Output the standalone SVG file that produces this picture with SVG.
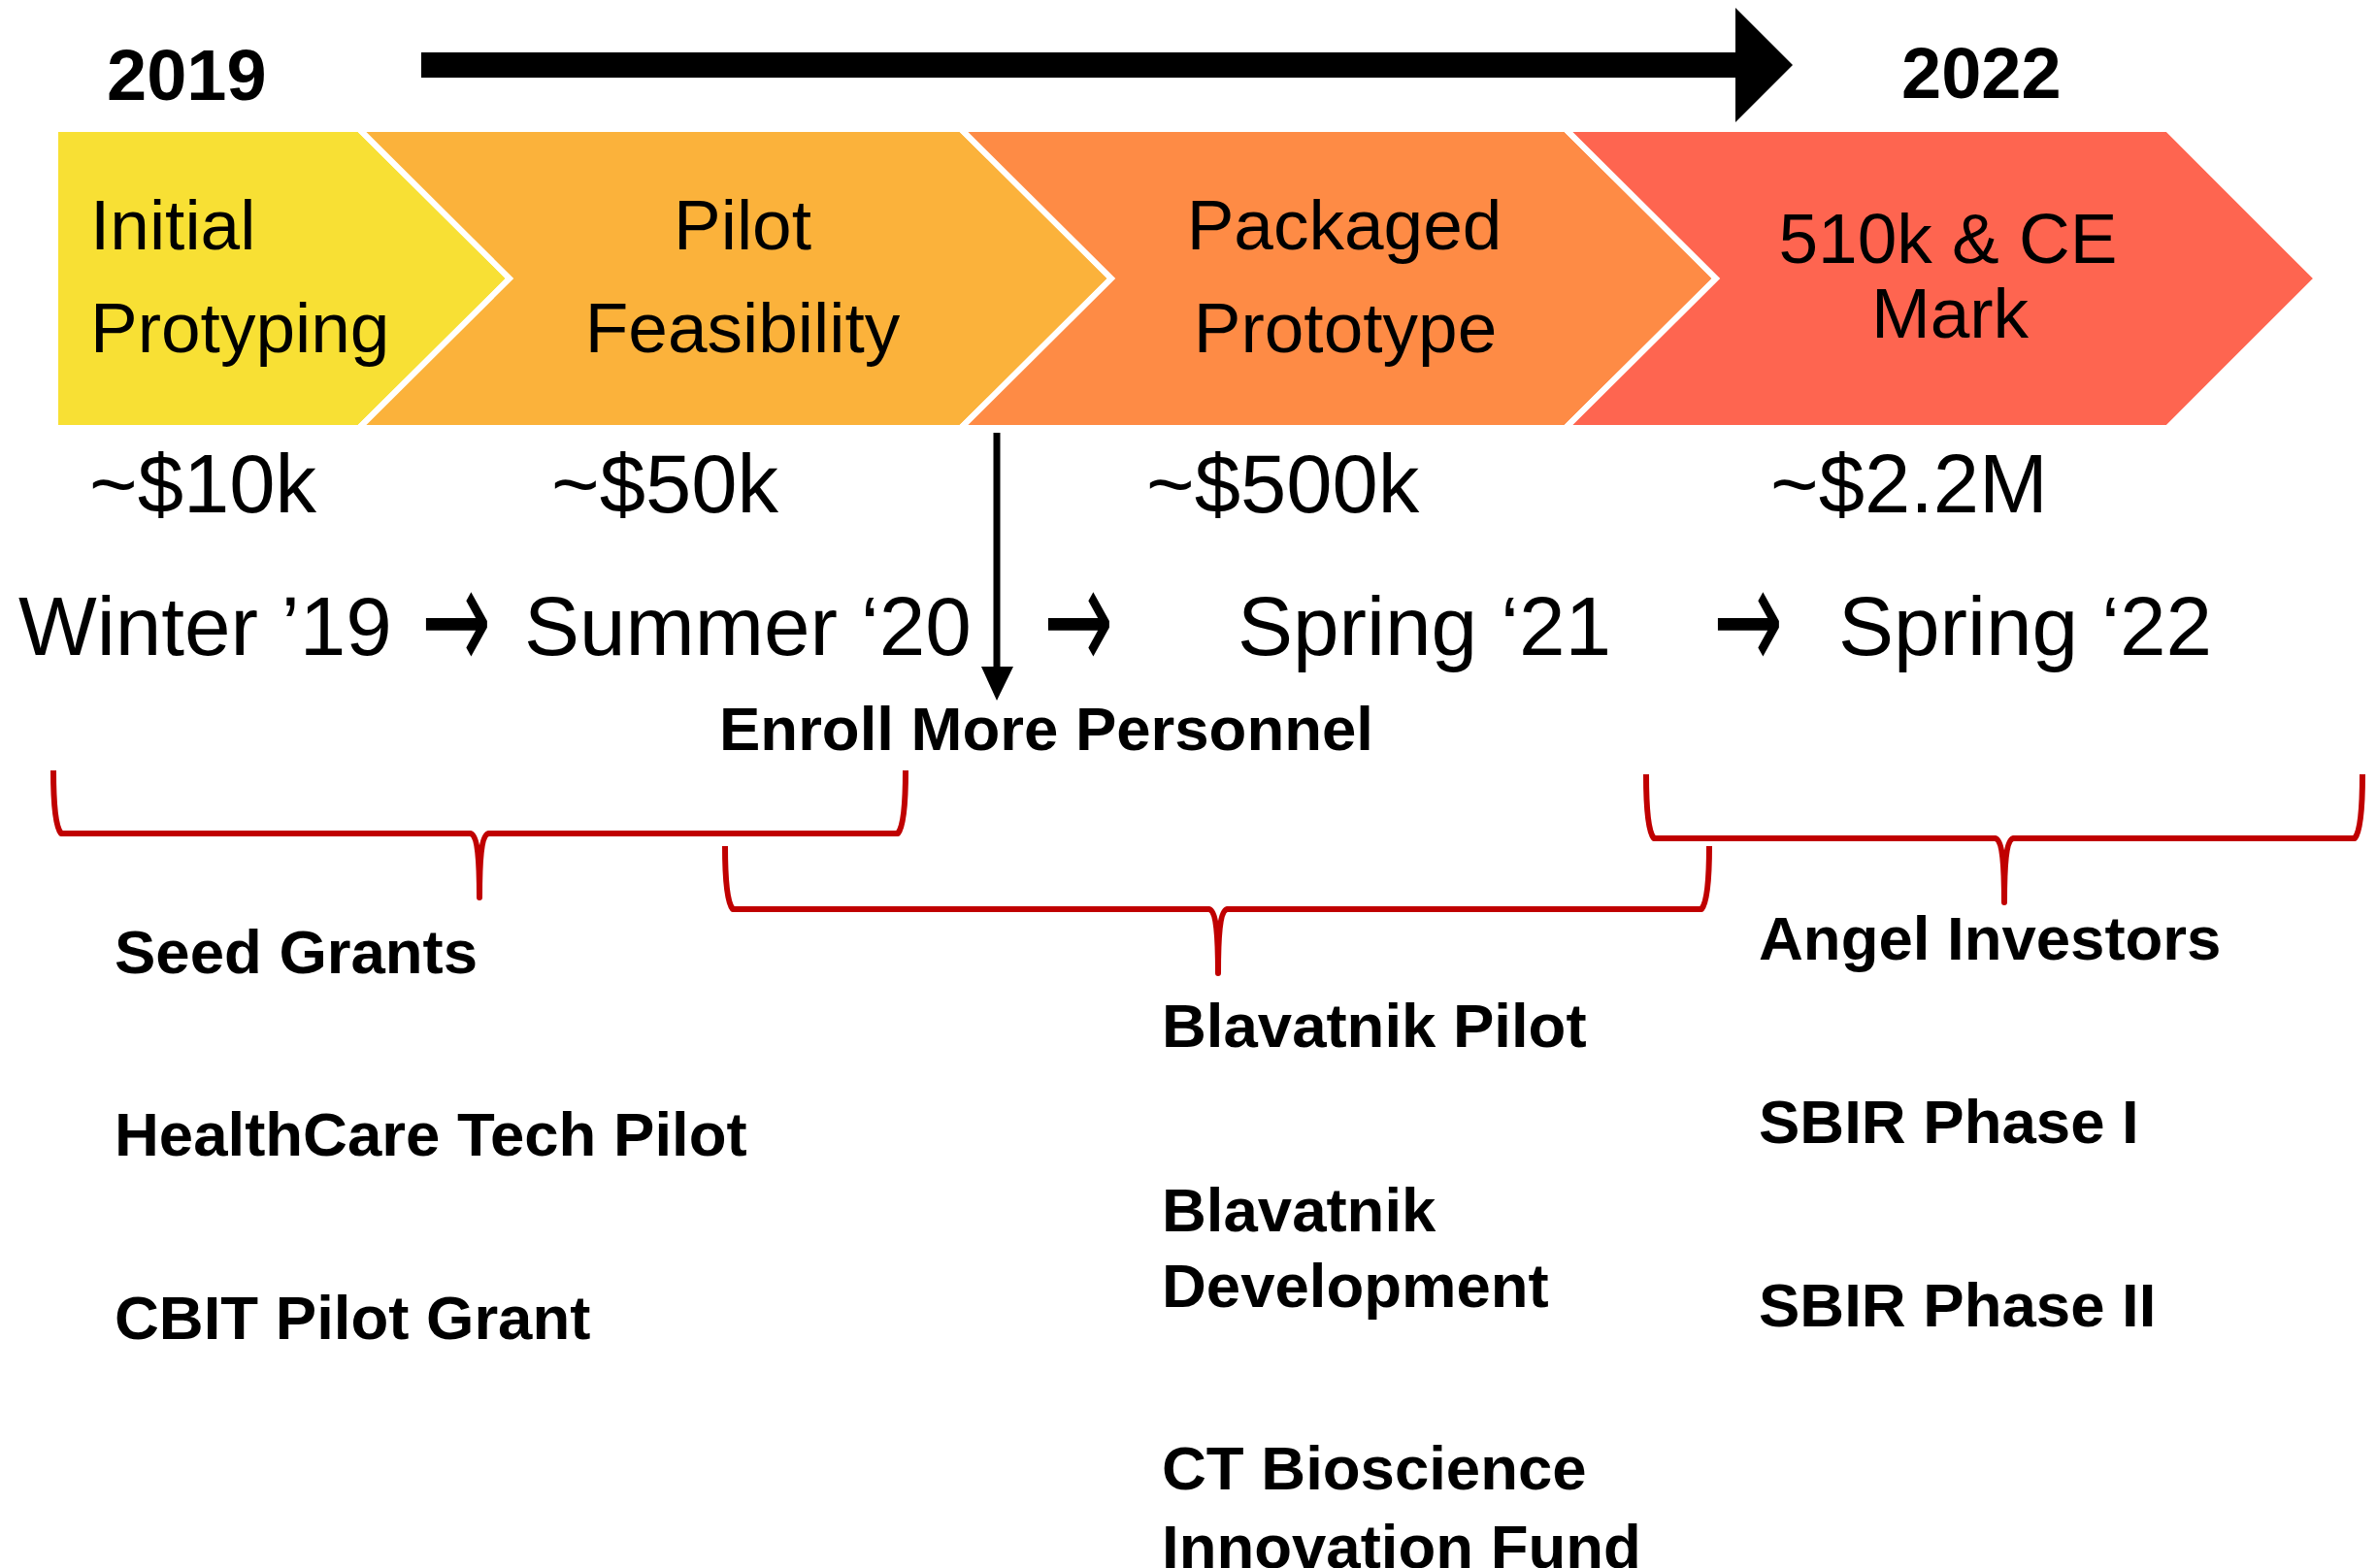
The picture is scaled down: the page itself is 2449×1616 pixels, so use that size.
<svg xmlns="http://www.w3.org/2000/svg" width="2449" height="1616" viewBox="0 0 2449 1616">
<style>
.t{font-family:"Liberation Sans",Arial,Helvetica,sans-serif;fill:#000}
.chev{font-size:73px}
.yr{font-size:74px;font-weight:bold}
.cost{font-size:85px}
.tl{font-size:85.5px}
.arr{font-family:"DejaVu Sans",sans-serif;font-weight:normal;font-size:100px;fill:#000}
.lbl{font-size:63.5px;font-weight:bold}
.ch{stroke:#fff;stroke-width:6;stroke-linejoin:miter}
.brace{fill:none;stroke:#C00000;stroke-width:6;stroke-linejoin:round}
</style>
<rect width="2449" height="1616" fill="#fff"/>

<g id="stage-initial">
<polygon class="ch" fill="#F8E034" points="57,133 370,133 525,287 370,441 57,441"/>
<text class="t chev" x="93" y="257">Initial</text>
<text class="t chev" x="93" y="363">Protyping</text>
</g>
<g id="stage-pilot">
<polygon class="ch" fill="#FBB23B" points="370,133 990,133 1145,287 990,441 370,441 525,287"/>
<text class="t chev" x="765" y="257" text-anchor="middle">Pilot</text>
<text class="t chev" x="765" y="363" text-anchor="middle">Feasibility</text>
</g>
<g id="stage-packaged">
<polygon class="ch" fill="#FE8B45" points="990,133 1613,133 1768,287 1613,441 990,441 1145,287"/>
<text class="t chev" x="1385" y="257" text-anchor="middle">Packaged</text>
<text class="t chev" x="1386" y="363" text-anchor="middle">Prototype</text>
</g>
<g id="stage-510k">
<polygon class="ch" fill="#FE6550" points="1613,133 2233,133 2387,287 2233,441 1613,441 1768,287"/>
<text class="t chev" x="2007" y="271" text-anchor="middle">510k &amp; CE</text>
<text class="t chev" x="2009" y="348" text-anchor="middle">Mark</text>
</g>

<g id="years">
<text class="t yr" x="110" y="103">2019</text>
<text class="t yr" x="1959" y="101">2022</text>
</g>

<g id="costs">
<text class="t cost" x="92" y="528">~$10k</text>
<text class="t cost" x="568" y="528">~$50k</text>
<text class="t cost" x="1181" y="528">~$500k</text>
<text class="t cost" x="1824" y="528">~$2.2M</text>
</g>

<g id="timeline">
<text class="t tl" x="19" y="675">Winter ’19</text>
<text class="arr" transform="translate(434,692) scale(0.86,1.55)">→</text>
<text class="t tl" x="540" y="675">Summer ‘20</text>
<text class="arr" transform="translate(1075,692) scale(0.86,1.55)">→</text>
<text class="t tl" x="1275" y="675">Spring ‘21</text>
<text class="arr" transform="translate(1765,692) scale(0.86,1.55)">→</text>
<text class="t tl" x="1894" y="675">Spring ‘22</text>
</g>

<g id="enroll">
<text class="t lbl" x="741" y="773">Enroll More Personnel</text>
</g>

<g id="funding-early">
<text class="t lbl" x="118" y="1003">Seed Grants</text>
<text class="t lbl" x="118" y="1191">HealthCare Tech Pilot</text>
<text class="t lbl" x="118" y="1380">CBIT Pilot Grant</text>
</g>
<g id="funding-mid">
<text class="t lbl" x="1197" y="1079">Blavatnik Pilot</text>
<text class="t lbl" x="1197" y="1269">Blavatnik</text>
<text class="t lbl" x="1197" y="1347">Development</text>
<text class="t lbl" x="1197" y="1535">CT Bioscience</text>
<text class="t lbl" x="1197" y="1616">Innovation Fund</text>
</g>
<g id="funding-late">
<text class="t lbl" x="1812" y="989">Angel Investors</text>
<text class="t lbl" x="1812" y="1178">SBIR Phase I</text>
<text class="t lbl" x="1812" y="1367">SBIR Phase II</text>
</g>

<g id="connectors">
<polygon id="time-arrow" fill="#000" points="434,54 1788,54 1788,8 1847,67 1788,126 1788,80 434,80"/>
<g id="enroll-arrow">
<line x1="1027" y1="446" x2="1027" y2="692" stroke="#000" stroke-width="7"/>
<polygon fill="#000" points="1011,687 1044,687 1027,722"/>
</g>
<path id="brace-1" class="brace" d="M55,794 C55,830 57,852 63,859 L485,859 C491,861 494,880 494,925 C494,880 497,861 503,859 L925,859 C931,852 933,830 933,794"/>
<path id="brace-2" class="brace" d="M747,872 C747,908 749,930 755,937 L1246,937 C1252,939 1255,958 1255,1003 C1255,958 1258,939 1264,937 L1753,937 C1759,930 1761,908 1761,872"/>
<path id="brace-3" class="brace" d="M1696,798 C1696,834 1698,857 1704,864 L2056,864 C2062,866 2065,885 2065,930 C2065,885 2068,866 2074,864 L2426,864 C2432,857 2434,834 2434,798"/>
</g>
</svg>
